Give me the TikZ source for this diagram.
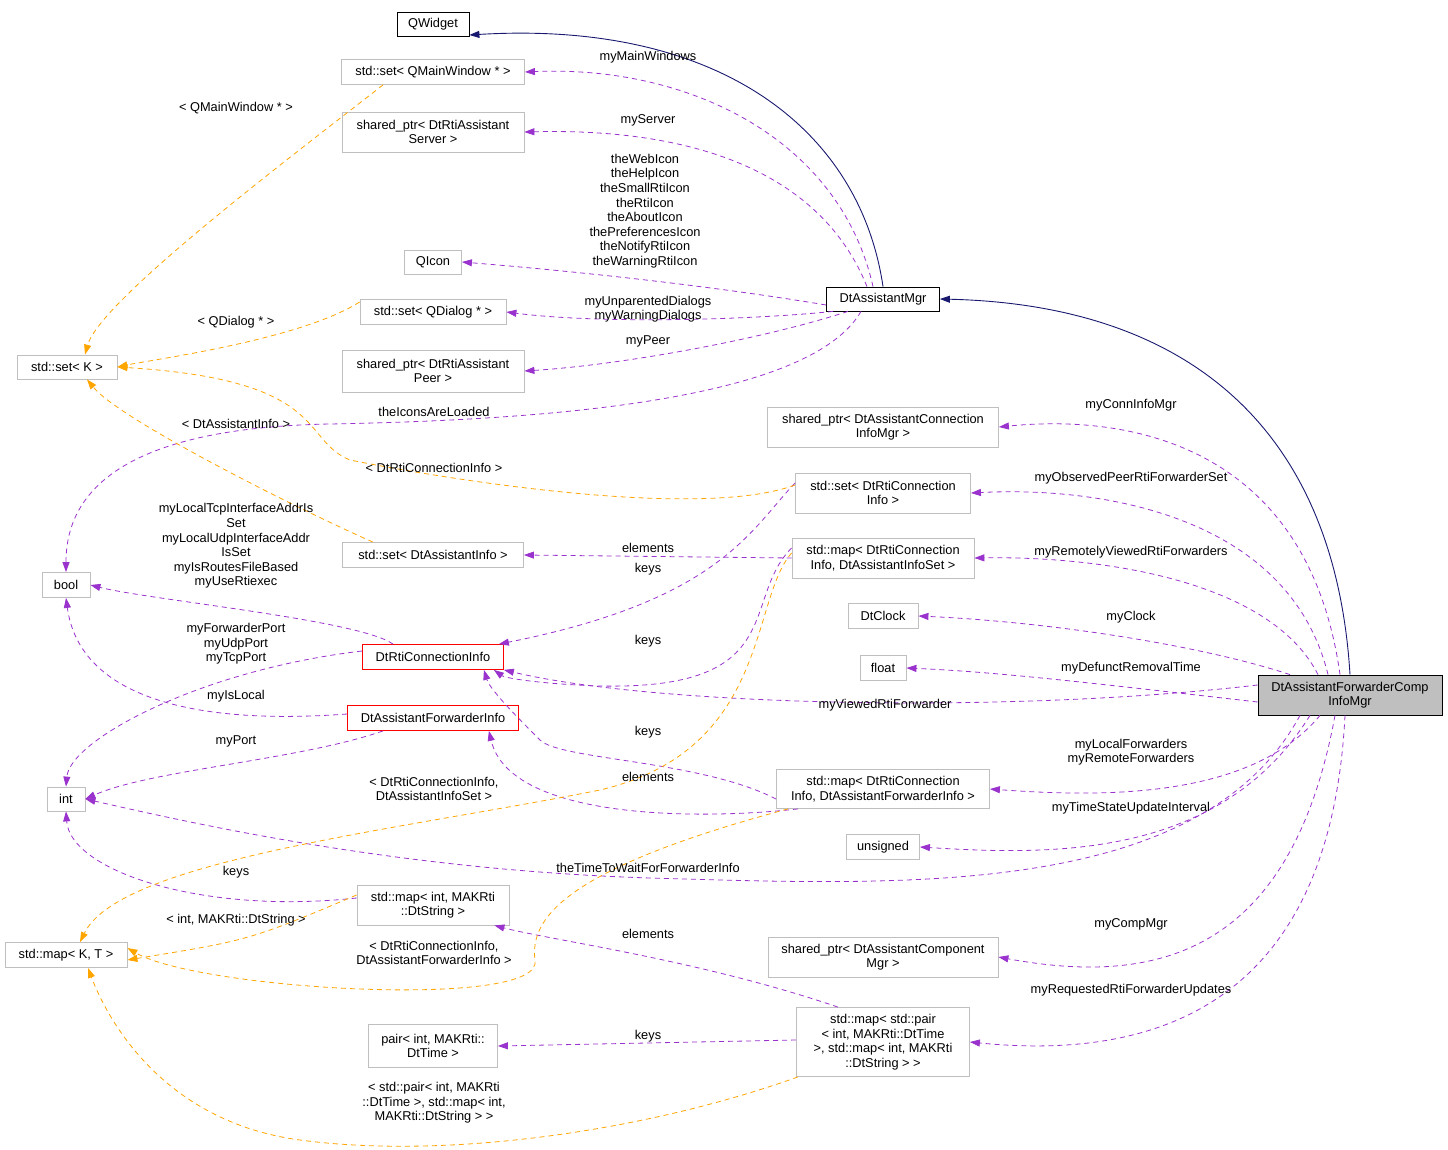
\documentclass[tikz,border=0pt]{standalone}
\usepackage{fontspec}
\setmainfont{Liberation Sans}
\usetikzlibrary{arrows.meta}
\definecolor{pur}{HTML}{9A32CD}
\definecolor{org}{HTML}{FFA500}
\definecolor{nav}{HTML}{191970}
\definecolor{gb}{HTML}{BFBFBF}
\begin{document}
\begin{tikzpicture}[x=1pt,y=-1pt,
  font=\fontsize{12.8}{14.6}\selectfont,
  box/.style={draw=gb,line width=0.8pt,align=center,inner sep=2pt,fill=white},
  blk/.style={box,draw=black},
  red/.style={box,draw=red},
  lbl/.style={align=center,inner sep=0pt},
  pe/.style={draw=pur,dashed,dash pattern=on 5pt off 4pt,line width=0.8pt,-{Triangle[length=10pt,width=7pt]},pur},
  oe/.style={draw=org,dashed,dash pattern=on 5pt off 4pt,line width=0.8pt,-{Triangle[length=10pt,width=7pt]},org},
  ne/.style={draw=nav,line width=0.9pt,-{Triangle[length=10pt,width=7pt]},nav}]
\useasboundingbox (0,0) rectangle (1448,1150);
% nodes
\node[blk,minimum width=72,minimum height=24] (qw) at (433,24) {QWidget};
\node[box,minimum width=183,minimum height=25] (setqmw) at (433,72) {std::set< QMainWindow * >};
\node[box,minimum width=182,minimum height=40] (server) at (433,132) {shared\_ptr< DtRtiAssistant\\Server >};
\node[box,minimum width=57,minimum height=24] (qicon) at (433,262) {QIcon};
\node[box,minimum width=146,minimum height=25] (setqd) at (433,312) {std::set< QDialog * >};
\node[box,minimum width=182,minimum height=42] (peer) at (433,371) {shared\_ptr< DtRtiAssistant\\Peer >};
\node[box,minimum width=100,minimum height=24] (setk) at (67,367) {std::set< K >};
\node[box,minimum width=48,minimum height=25] (bool) at (66,585) {bool};
\node[box,minimum width=38,minimum height=24] (int) at (66,799) {int};
\node[box,minimum width=122,minimum height=25] (mapkt) at (66,955) {std::map< K, T >};
\node[blk,minimum width=113,minimum height=24] (mgr) at (883,299) {DtAssistantMgr};
\node[box,minimum width=231,minimum height=40] (conninfo) at (883,427) {shared\_ptr< DtAssistantConnection\\InfoMgr >};
\node[box,minimum width=175,minimum height=40] (setconn) at (883,493) {std::set< DtRtiConnection\\Info >};
\node[box,minimum width=181,minimum height=25] (setai) at (433,555) {std::set< DtAssistantInfo >};
\node[box,minimum width=182,minimum height=40] (mapais) at (883,558) {std::map< DtRtiConnection\\Info, DtAssistantInfoSet >};
\node[box,minimum width=70,minimum height=25] (clock) at (883,616) {DtClock};
\node[box,minimum width=46,minimum height=25] (float) at (883,668) {float};
\node[red,minimum width=141,minimum height=25] (dtrci) at (433,657) {DtRtiConnectionInfo};
\node[red,minimum width=171,minimum height=25] (dafi) at (433,718) {DtAssistantForwarderInfo};
\node[box,minimum width=213,minimum height=39] (mapfwd) at (883,789) {std::map< DtRtiConnection\\Info, DtAssistantForwarderInfo >};
\node[box,minimum width=73,minimum height=25] (unsigned) at (883,847) {unsigned};
\node[box,minimum width=152,minimum height=40] (mapint) at (433,905) {std::map< int, MAKRti\\::DtString >};
\node[box,minimum width=230,minimum height=40] (compmgr) at (883,957) {shared\_ptr< DtAssistantComponent\\Mgr >};
\node[box,minimum width=129,minimum height=43] (pair) at (433,1046) {pair< int, MAKRti::\\DtTime >};
\node[box,minimum width=173,minimum height=69] (mappair) at (883,1042) {std::map< std::pair\\< int, MAKRti::DtTime\\ >, std::map< int, MAKRti\\::DtString > >};
\node[box,draw=black,fill=gb,minimum width=184,minimum height=40] (comp) at (1350,695) {DtAssistantForwarderComp\\InfoMgr};
% navy
\draw[ne] (mgr.north) .. controls (860,130) and (720,20) .. ([yshift=-11]qw.east);
\draw[ne] (comp.north) .. controls (1335,430) and (1190,305) .. (mgr.east);
% purple from mgr
\draw[pe] ([xshift=-10]mgr.north) .. controls (840,140) and (690,65) .. (setqmw.east);
\draw[pe] ([xshift=-16]mgr.north) .. controls (820,170) and (690,128) .. (server.east);
\draw[pe] ([yshift=-6]mgr.west) .. controls (700,284) and (560,270) .. (qicon.east);
\draw[pe] ([xshift=-50]mgr.south) .. controls (750,320) and (600,324) .. (setqd.east);
\draw[pe] ([xshift=-35]mgr.south) .. controls (760,340) and (620,365) .. (peer.east);
\draw[pe] ([xshift=-22]mgr.south) .. controls (810,400) and (550,420) .. (330,424) .. controls (110,428) and (66,500) .. (bool.north);
% purple from comp
\draw[pe] ([xshift=-10]comp.north) .. controls (1310,460) and (1150,412) .. (conninfo.east);
\draw[pe] ([xshift=-22]comp.north) .. controls (1290,520) and (1110,486) .. (setconn.east);
\draw[pe] ([xshift=-32]comp.north) .. controls (1270,580) and (1100,556) .. (mapais.east);
\draw[pe] ([xshift=-60]comp.north) .. controls (1200,645) and (1050,622) .. (clock.east);
\draw[pe] ([yshift=-7]comp.west) .. controls (1100,684) and (1000,672) .. (float.east);
\draw[pe] ([yshift=10]comp.west) .. controls (1000,715) and (650,705) .. (dtrci.south east);
\draw[pe] ([xshift=-30]comp.south) .. controls (1250,800) and (1100,797) .. (mapfwd.east);
\draw[pe] ([xshift=-40]comp.south) .. controls (1220,860) and (1050,855) .. (unsigned.east);
\draw[pe] ([xshift=-50]comp.south) .. controls (1200,900) and (900,885) .. (650,878) .. controls (400,870) and (200,825) .. (int.east);
\draw[pe] ([xshift=-15]comp.south) .. controls (1290,960) and (1150,985) .. (compmgr.east);
\draw[pe] ([xshift=-5]comp.south) .. controls (1330,1010) and (1150,1060) .. (mappair.east);
% inner purple
\draw[pe] ([yshift=10]setconn.west) .. controls (750,530) and (720,600) .. ([xshift=-5]dtrci.north east);
\draw[pe] (mapais.west) -- (setai.east);
\draw[pe] ([yshift=10]mapais.west) .. controls (740,600) and (790,690) .. (600,686) .. controls (540,684) and (505,678) .. ([xshift=-10]dtrci.south east);
\draw[pe] ([yshift=-10]mapfwd.west) .. controls (700,760) and (560,760) .. (540,740) .. controls (520,720) and (490,690) .. ([xshift=-20]dtrci.south east);
\draw[pe] ([xshift=-85]mapfwd.south) .. controls (700,820) and (510,820) .. ([xshift=-30]dafi.south east);
\draw[pe] ([xshift=-40]dtrci.north) .. controls (360,620) and (150,600) .. (bool.east);
\draw[pe] ([yshift=6]dtrci.west) .. controls (200,670) and (70,740) .. (int.north);
\draw[pe] ([yshift=4]dafi.west) .. controls (200,725) and (80,700) .. (bool.south);
\draw[pe] ([xshift=-50]dafi.south) .. controls (300,760) and (150,770) .. (int.east);
\draw[pe] ([yshift=7]mapint.west) .. controls (200,915) and (70,870) .. (int.south);
\draw[pe] ([xshift=-45]mappair.north) .. controls (700,960) and (550,940) .. ([xshift=-15]mapint.south east);
\draw[pe] ([yshift=2]mappair.west) -- (pair.east);
% orange
\draw[oe] ([xshift=-50]setqmw.south) .. controls (300,150) and (100,300) .. ([xshift=18]setk.north);
\draw[oe] ([yshift=10]setqd.west) .. controls (300,340) and (150,360) .. (setk.east);
\draw[oe] ([yshift=8]setconn.west) .. controls (700,520) and (450,480) .. (350,460) .. controls (300,440) and (330,380) .. (setk.east);
\draw[oe] ([xshift=-60]setai.north) .. controls (300,510) and (120,420) .. ([xshift=20]setk.south);
\draw[oe] ([yshift=5]mapais.west) .. controls (750,600) and (770,750) .. (600,790) .. controls (400,830) and (120,860) .. ([xshift=14]mapkt.north);
\draw[oe] ([yshift=10]mapint.west) .. controls (250,940) .. ([yshift=-5]mapkt.east);
\draw[oe] ([xshift=-95]mapfwd.south) .. controls (560,870) and (530,920) .. (535,960) .. controls (545,1010) and (200,990) .. ([yshift=7]mapkt.east);
\draw[oe] ([xshift=-85]mappair.south) .. controls (650,1130) and (450,1160) .. (300,1140) .. controls (150,1120) and (100,1000) .. ([xshift=22]mapkt.south);
% labels
\node[lbl] (l1) at (648,57) {myMainWindows};
\node[lbl] (l2) at (648,120) {myServer};
\node[lbl] (l3) at (645,211) {theWebIcon\\theHelpIcon\\theSmallRtiIcon\\theRtiIcon\\theAboutIcon\\thePreferencesIcon\\theNotifyRtiIcon\\theWarningRtiIcon};
\node[lbl] (l4) at (648,309) {myUnparentedDialogs\\myWarningDialogs};
\node[lbl] (l5) at (648,341) {myPeer};
\node[lbl] (l6) at (434,412) {theIconsAreLoaded};
\node[lbl] (l7) at (1131,405) {myConnInfoMgr};
\node[lbl] (l8) at (1131,478) {myObservedPeerRtiForwarderSet};
\node[lbl] (l9) at (1131,552) {myRemotelyViewedRtiForwarders};
\node[lbl] (l10) at (1131,617) {myClock};
\node[lbl] (l11) at (1131,668) {myDefunctRemovalTime};
\node[lbl] (l12) at (885,705) {myViewedRtiForwarder};
\node[lbl] (l13) at (1131,752) {myLocalForwarders\\myRemoteForwarders};
\node[lbl] (l14) at (1131,808) {myTimeStateUpdateInterval};
\node[lbl] (l15) at (648,868) {theTimeToWaitForForwarderInfo};
\node[lbl] (l16) at (1131,924) {myCompMgr};
\node[lbl] (l17) at (1131,990) {myRequestedRtiForwarderUpdates};
\node[lbl] (l18) at (648,569) {keys};
\node[lbl] (l19) at (648,548) {elements};
\node[lbl] (l20) at (648,641) {keys};
\node[lbl] (l21) at (648,732) {keys};
\node[lbl] (l22) at (648,777) {elements};
\node[lbl] (l23) at (236,546) {myLocalTcpInterfaceAddrIs\\Set\\myLocalUdpInterfaceAddr\\IsSet\\myIsRoutesFileBased\\myUseRtiexec};
\node[lbl] (l24) at (236,644) {myForwarderPort\\myUdpPort\\myTcpPort};
\node[lbl] (l25) at (236,696) {myIsLocal};
\node[lbl] (l26) at (236,741) {myPort};
\node[lbl] (l27) at (236,872) {keys};
\node[lbl] (l28) at (648,934) {elements};
\node[lbl] (l29) at (648,1036) {keys};
\node[lbl] (o1) at (236,108) {< QMainWindow * >};
\node[lbl] (o2) at (236,322) {< QDialog * >};
\node[lbl] (o3) at (434,468) {< DtRtiConnectionInfo >};
\node[lbl] (o4) at (236,424) {< DtAssistantInfo >};
\node[lbl] (o5) at (434,789) {< DtRtiConnectionInfo,\\DtAssistantInfoSet >};
\node[lbl] (o6) at (236,920) {< int, MAKRti::DtString >};
\node[lbl] (o7) at (434,953) {< DtRtiConnectionInfo,\\DtAssistantForwarderInfo >};
\node[lbl] (o8) at (434,1103) {< std::pair< int, MAKRti\\::DtTime >, std::map< int,\\MAKRti::DtString > >};
\end{tikzpicture}
\end{document}
